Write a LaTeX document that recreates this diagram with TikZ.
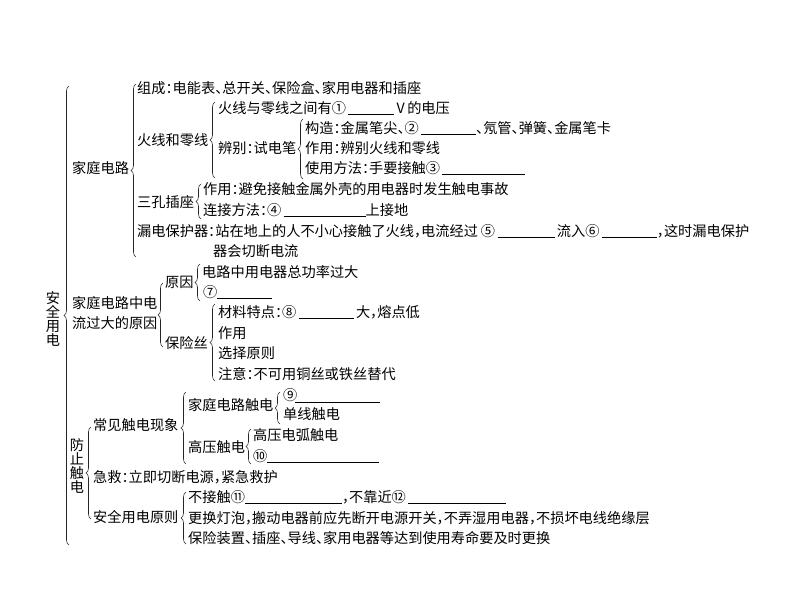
\documentclass[tikz,border=0pt]{standalone}
\usepackage{fontspec}
\newfontfamily\cjk{Noto Sans CJK SC}[RawFeature=+halt]
\usetikzlibrary{decorations.pathreplacing}
\newcommand{\ul}[1]{\rule[-1.5pt]{#1pt}{0.6pt}}
\begin{document}
\begin{tikzpicture}[x=1pt,y=-1pt,
  every node/.style={inner sep=0pt,anchor=west,text=black,font=\cjk\fontsize{14.2}{14.5}\selectfont},
  vert/.style={anchor=center,align=center,font=\cjk\fontsize{14.2}{14.3}\selectfont},
  brc/.style={decorate,decoration={brace,amplitude=5pt},line width=0.6pt,black!85}]
\useasboundingbox (0,0) rectangle (794,596);
% level 0
\node[vert] (aqyd) at (53,319) {安\\全\\用\\电};
\draw[brc] (69,545) -- (69,86);
% 家庭电路
\node (jtdl) at (72,168) {家庭电路};
\draw[brc] (136,257) -- (136,84);
\node (zc) at (137,88) {组成：电能表、总开关、保险盒、家用电器和插座};
\node (hx) at (137,140) {火线和零线};
\draw[brc] (215,178) -- (215,102);
\node (hx1) at (218,108) {火线与零线之间有①\,\ul{46}\,V\,的电压};
\node (bb) at (218,148) {辨别：试电笔};
\draw[brc] (303,179) -- (303,119);
\node (gz) at (305,128) {构造：金属笔尖、②\,\ul{55}、氖管、弹簧、金属笔卡};
\node (zy1) at (305,148) {作用：辨别火线和零线};
\node (syff) at (305,168) {使用方法：手要接触③\,\ul{83}};
\node (skcz) at (137,202) {三孔插座};
\draw[brc] (201,219) -- (201,184);
\node (zy2) at (203,189) {作用：避免接触金属外壳的用电器时发生触电事故};
\node (ljff) at (203,210) {连接方法：④\,\ul{82}上接地};
\node (ldbh) at (137,231) {漏电保护器：站在地上的人不小心接触了火线，电流经过\kern3pt⑤\,\ul{57}\,流入⑥\,\ul{55}，这时漏电保护};
\node (ldbh2) at (213,251) {器会切断电流};
% 电流过大
\node[align=left,font=\cjk\fontsize{14.2}{20}\selectfont] (dlgd) at (72,313) {家庭电路中电\\流过大的原因};
\draw[brc] (163,347) -- (163,283);
\node (yy) at (165,282) {原因};
\draw[brc] (200,301) -- (200,264);
\node (yy1) at (202,272) {电路中用电器总功率过大};
\node (yy2) at (203,292) {⑦\ul{55}};
\node (bxs) at (165,343) {保险丝};
\draw[brc] (215,381) -- (215,304);
\node (cl) at (218,312) {材料特点：⑧\,\ul{55}\,大，熔点低};
\node (zy3) at (218,333) {作用};
\node (xz) at (218,353) {选择原则};
\node (zhy) at (218,374) {注意：不可用铜丝或铁丝替代};
% 防止触电
\node[vert] (fzcd) at (77,466) {防\\止\\触\\电};
\draw[brc] (91,519) -- (91,427);
\node (cj) at (93,425) {常见触电现象};
\draw[brc] (186,464) -- (186,392);
\node (jtcd) at (188,405) {家庭电路触电};
\draw[brc] (280,424) -- (280,392);
\node (n9) at (283,395) {⑨};
\coordinate (l9a) at (295,402);
\coordinate (l9b) at (380,402);
\draw[line width=0.6pt,black] (l9a) -- (l9b);
\node (dx) at (283,414) {单线触电};
\node (gycd) at (188,447) {高压触电};
\draw[brc] (251,464) -- (251,429);
\node (gydh) at (253,435) {高压电弧触电};
\node (n10) at (253,456) {⑩\ul{112}};
\node (jj) at (93,477) {急救：立即切断电源，紧急救护};
\node (aqyz) at (93,517) {安全用电原则};
\draw[brc] (186,544) -- (186,492);
\node (bjc) at (188,497) {不接触⑪\ul{97}，不靠近⑫\,\ul{98}};
\node (ghdp) at (188,518) {更换灯泡，搬动电器前应先断开电源开关，不弄湿用电器，不损坏电线绝缘层};
\node (bxzz) at (188,538) {保险装置、插座、导线、家用电器等达到使用寿命要及时更换};
\end{tikzpicture}
\end{document}
